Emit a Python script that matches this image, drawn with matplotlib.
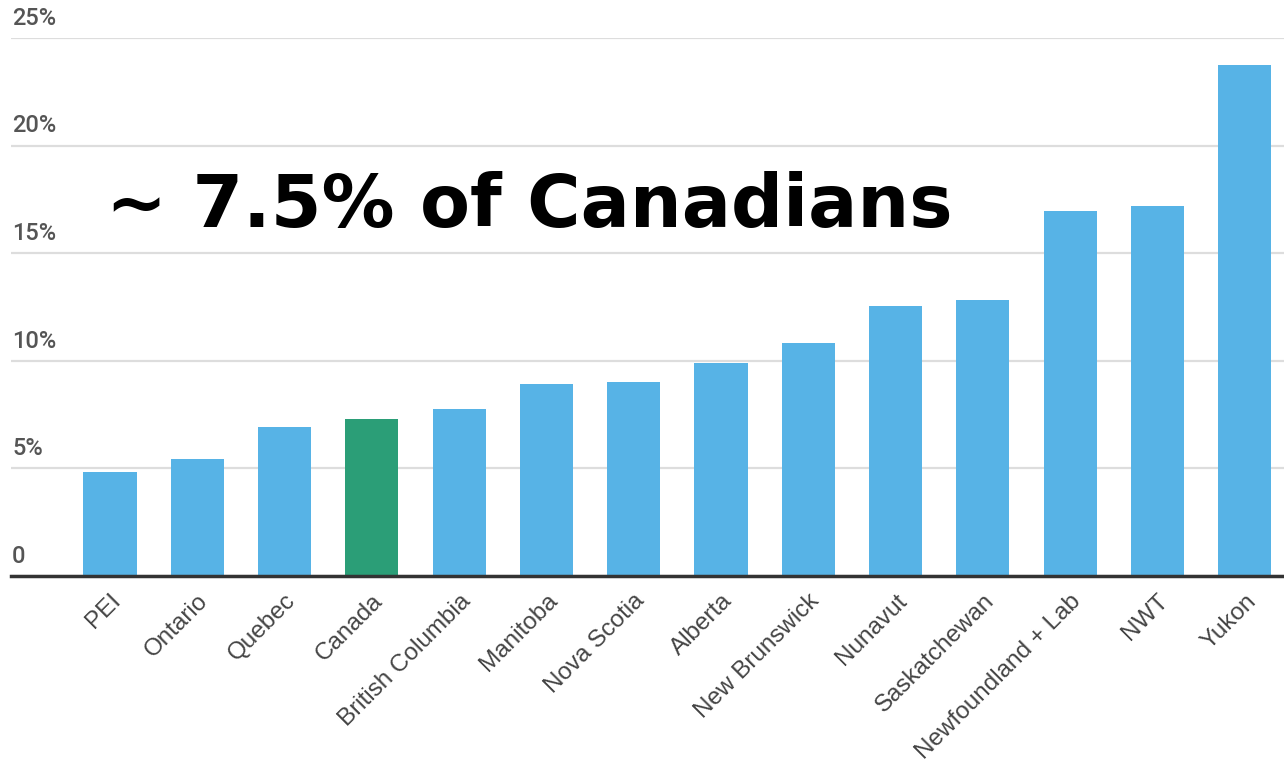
import matplotlib.pyplot as plt
import numpy as np

regions = ["PEI", "Ontario", "Quebec", "Canada", "British Columbia", "Manitoba",
           "Nova Scotia", "Alberta", "New Brunswick", "Nunavut", "Saskatchewan",
           "Newfoundland + Lab", "NWT", "Yukon"]
share = [4.83, 5.44, 6.92, 7.30, 7.76, 8.92, 9.01, 9.90, 10.83, 12.55, 12.83, 16.96, 17.19, 23.75]
yticks = [0, 5, 10, 15, 20, 25]
ytick_labels = ["0", "5%", "10%", "15%", "20%", "25%"]

blue = "#57b3e6"
green = "#2b9e77"
colors = [green if r == "Canada" else blue for r in regions]

fig = plt.figure(figsize=(12.84, 7.62), dpi=100)
ax = fig.add_axes([11 / 1284, 186 / 762, 1 - 11 / 1284, 538 / 762])

x = np.arange(len(regions))
ax.bar(x, share, width=0.61, color=colors, zorder=3)
ax.set_xlim(-1.134, 13.45)
ax.set_ylim(0, 25)

for s in ["top", "right", "left"]:
    ax.spines[s].set_visible(False)
ax.spines["bottom"].set_color("#333333")
ax.spines["bottom"].set_linewidth(2.5)
ax.spines["bottom"].set_zorder(4)

ax.set_yticks(yticks)
ax.yaxis.grid(True, color="#dddddd", linewidth=1.6, zorder=0)
ax.tick_params(axis="y", length=0, labelleft=False)
for v, lab in zip(yticks, ytick_labels):
    ax.text(0.0008, v + 0.38, lab, transform=ax.get_yaxis_transform(),
            ha="left", va="bottom", fontsize=17, color="#555555",
            family="Roboto", fontweight="medium")

ax.set_xticks(x)
ax.set_xticklabels(regions, rotation=45, ha="right", rotation_mode="anchor",
                   fontsize=17.5, color="#444444", family="Liberation Sans")
ax.tick_params(axis="x", length=0, pad=10)

fig.text(106 / 1284, 1 - 227 / 762, "~ 7.5% of Canadians", fontsize=52.5,
         fontweight="bold", family="DejaVu Sans", color="black",
         ha="left", va="baseline")

fig.savefig("out.png")
plt.close(fig)
